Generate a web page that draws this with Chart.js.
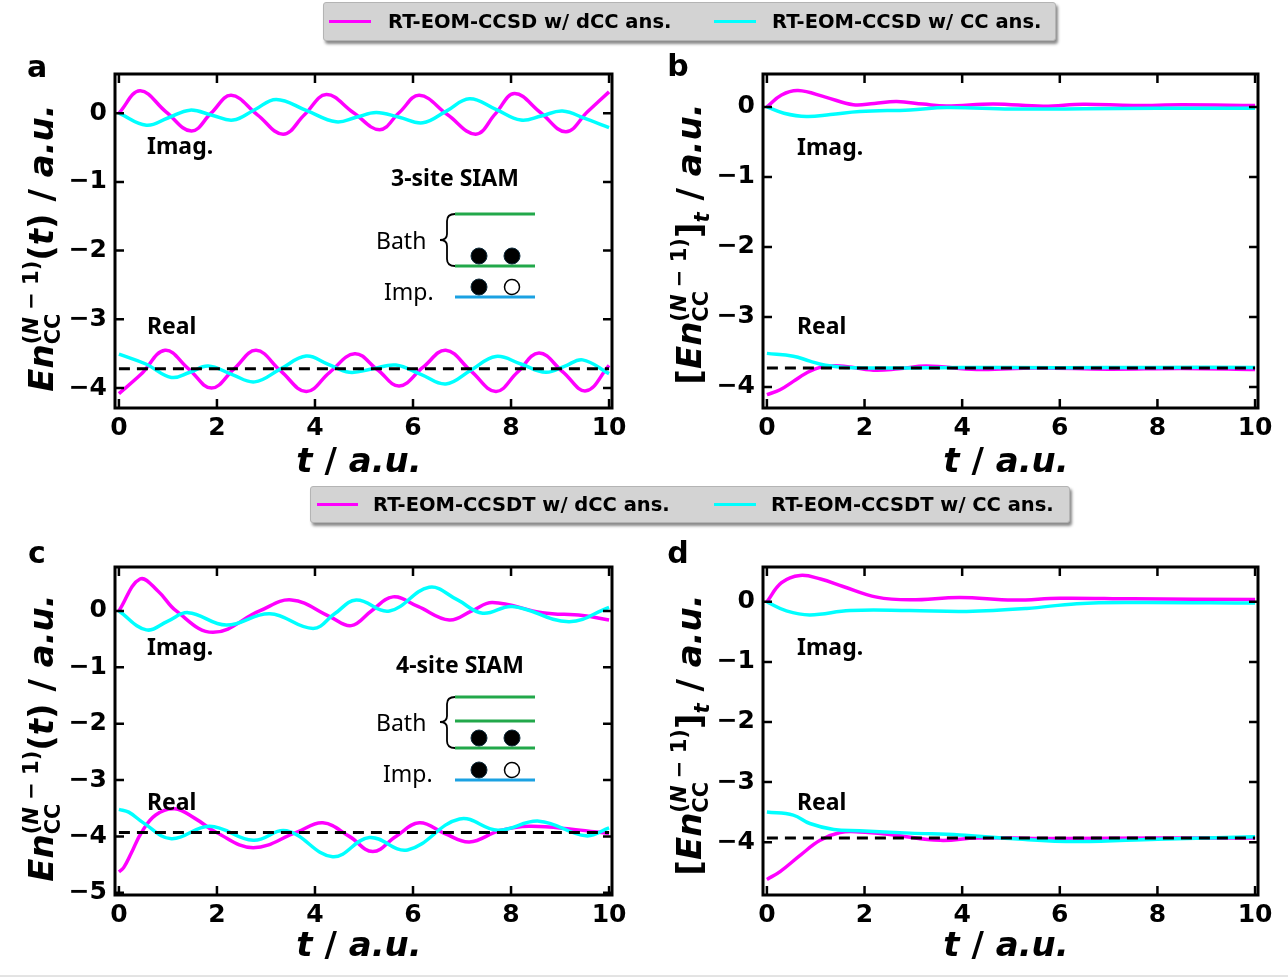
<!DOCTYPE html>
<html>
<head>
<meta charset="utf-8">
<script src="https://cdn.jsdelivr.net/npm/chart.js@4.4.0/dist/chart.umd.min.js"></script>
<style>
  body { margin: 0; background: #fff; width: 1288px; height: 979px; position: relative; overflow: hidden; font-family: "DejaVu Sans", sans-serif; }
  canvas { position: absolute; left: 0; top: 0; }
  .t { position: absolute; white-space: nowrap; transform: translate(-50%, -50%); line-height: 1; }
  .pl { font: bold 30px "DejaVu Sans"; }
  .xt { font: bold 34px "DejaVu Sans"; }
  .yt { font: bold 34px "DejaVu Sans"; transform: translate(-50%, -50%) rotate(-90deg); }
  .ss { display: inline-block; vertical-align: -0.32em; font-size: 21px; line-height: 1.05; text-align: left; }
  .ss span { display: block; }
  .sb { font-size: 21px; vertical-align: -0.35em; }
  .ann { position: absolute; white-space: nowrap; font: bold 23px "Noto Sans"; transform: translateY(-50%); line-height: 1; }
  .dia { position: absolute; white-space: nowrap; font: 23px "Noto Sans"; transform: translateY(-50%); line-height: 1; }
  .legend { position: absolute; background: #d3d3d3; border: 1px solid #b4b4b4; border-radius: 3px; box-shadow: 2px 3px 3px #8a8a8a; }
  .sw { position: absolute; height: 3px; }
  .lt { position: absolute; white-space: nowrap; font: bold 19.5px "DejaVu Sans"; transform: translateY(-50%); line-height: 1; }
  svg { position: absolute; left: 0; top: 0; }
</style>
</head>
<body>
<canvas id="pa" width="1288" height="979"></canvas>
<canvas id="pb" width="1288" height="979"></canvas>
<canvas id="pc" width="1288" height="979"></canvas>
<canvas id="pd" width="1288" height="979"></canvas>

<svg width="1288" height="979">
  <!-- 3-site diagram -->
  <line x1="455" y1="214" x2="535" y2="214" stroke="#22a84a" stroke-width="3"/>
  <line x1="455" y1="266" x2="535" y2="266" stroke="#22a84a" stroke-width="3"/>
  <line x1="455" y1="297" x2="535" y2="297" stroke="#1ba1e2" stroke-width="3"/>
  <path d="M455 214 Q447 214 447 221 L447 234 Q447 240 440 240 Q447 240 447 246 L447 259 Q447 266 455 266" fill="none" stroke="#000" stroke-width="1.8"/>
  <circle cx="479" cy="256" r="8" fill="#000" stroke="#0e2a3a" stroke-width="1"/>
  <circle cx="512" cy="256" r="8" fill="#000" stroke="#0e2a3a" stroke-width="1"/>
  <circle cx="479" cy="287" r="8" fill="#000" stroke="#0e2a3a" stroke-width="1"/>
  <circle cx="512" cy="287" r="7.5" fill="#fff" stroke="#000" stroke-width="1.5"/>
  <!-- 4-site diagram -->
  <line x1="455" y1="697" x2="535" y2="697" stroke="#22a84a" stroke-width="3"/>
  <line x1="455" y1="721" x2="535" y2="721" stroke="#22a84a" stroke-width="3"/>
  <line x1="455" y1="748" x2="535" y2="748" stroke="#22a84a" stroke-width="3"/>
  <line x1="455" y1="780" x2="535" y2="780" stroke="#1ba1e2" stroke-width="3"/>
  <path d="M455 697 Q447 697 447 704 L447 716 Q447 722 440 722 Q447 722 447 728 L447 741 Q447 748 455 748" fill="none" stroke="#000" stroke-width="1.8"/>
  <circle cx="479" cy="738" r="8" fill="#000" stroke="#0e2a3a" stroke-width="1"/>
  <circle cx="512" cy="738" r="8" fill="#000" stroke="#0e2a3a" stroke-width="1"/>
  <circle cx="479" cy="770" r="8" fill="#000" stroke="#0e2a3a" stroke-width="1"/>
  <circle cx="512" cy="770" r="7.5" fill="#fff" stroke="#000" stroke-width="1.5"/>
  <line x1="0" y1="976" x2="1288" y2="976" stroke="#c8c8c8" stroke-width="1"/>
</svg>

<!-- legends -->
<div class="legend" style="left:323px;top:2px;width:731px;height:37px;">
  <div class="sw" style="left:5px;top:17px;width:42px;background:#ff00ff;"></div>
  <div class="lt" style="left:64px;top:19px;">RT-EOM-CCSD w/ dCC ans.</div>
  <div class="sw" style="left:390px;top:17px;width:42px;background:#00ffff;"></div>
  <div class="lt" style="left:448px;top:19px;">RT-EOM-CCSD w/ CC ans.</div>
</div>
<div class="legend" style="left:310px;top:486px;width:758px;height:35px;">
  <div class="sw" style="left:6px;top:16px;width:41px;background:#ff00ff;"></div>
  <div class="lt" style="left:62px;top:18px;">RT-EOM-CCSDT w/ dCC ans.</div>
  <div class="sw" style="left:403px;top:16px;width:42px;background:#00ffff;"></div>
  <div class="lt" style="left:460px;top:18px;">RT-EOM-CCSDT w/ CC ans.</div>
</div>

<!-- panel letters -->
<div class="t pl" style="left:37px;top:66px;">a</div>
<div class="t pl" style="left:678px;top:65px;">b</div>
<div class="t pl" style="left:37px;top:552px;">c</div>
<div class="t pl" style="left:678px;top:552px;">d</div>

<!-- axis titles -->
<div class="t xt" style="left:359px;top:460px;"><i>t</i> / <i>a.u.</i></div>
<div class="t xt" style="left:1006px;top:460px;"><i>t</i> / <i>a.u.</i></div>
<div class="t xt" style="left:359px;top:944px;"><i>t</i> / <i>a.u.</i></div>
<div class="t xt" style="left:1006px;top:944px;"><i>t</i> / <i>a.u.</i></div>

<div class="t yt" style="left:42px;top:248px;"><i>En</i><span class="ss"><span>(<i>N</i> − 1)</span><span>CC</span></span>(<i>t</i>) / <i>a.u.</i></div>
<div class="t yt" style="left:691px;top:244px;">[<i>En</i><span class="ss"><span>(<i>N</i> − 1)</span><span>CC</span></span>]<span class="sb"><i>t</i></span> / <i>a.u.</i></div>
<div class="t yt" style="left:42px;top:738px;"><i>En</i><span class="ss"><span>(<i>N</i> − 1)</span><span>CC</span></span>(<i>t</i>) / <i>a.u.</i></div>
<div class="t yt" style="left:691px;top:735px;">[<i>En</i><span class="ss"><span>(<i>N</i> − 1)</span><span>CC</span></span>]<span class="sb"><i>t</i></span> / <i>a.u.</i></div>

<!-- annotations -->
<div class="ann" style="left:147px;top:145px;">Imag.</div>
<div class="ann" style="left:147px;top:325px;">Real</div>
<div class="ann" style="left:797px;top:146px;">Imag.</div>
<div class="ann" style="left:797px;top:325px;">Real</div>
<div class="ann" style="left:147px;top:646px;">Imag.</div>
<div class="ann" style="left:147px;top:801px;">Real</div>
<div class="ann" style="left:797px;top:646px;">Imag.</div>
<div class="ann" style="left:797px;top:801px;">Real</div>
<div class="ann" style="left:391px;top:177px;">3-site SIAM</div>
<div class="ann" style="left:396px;top:664px;">4-site SIAM</div>
<div class="dia" style="left:376px;top:240px;">Bath</div>
<div class="dia" style="left:384px;top:291px;">Imp.</div>
<div class="dia" style="left:376px;top:722px;">Bath</div>
<div class="dia" style="left:383px;top:773px;">Imp.</div>

<script>
// ---- panel a: 3-site SIAM, RT-EOM-CCSD ----
var aImagDccT = [0, 0.43, 0.96, 1.48, 1.88, 2.29, 2.82, 3.35, 3.79, 4.23, 4.78, 5.32, 5.72, 6.13, 6.7, 7.28, 7.68, 8.07, 8.6, 9.12, 9.56, 10];
var aImagDccV = [0, 0.325, 0.02, -0.26, 0.0, 0.26, -0.02, -0.305, -0.02, 0.27, 0.01, -0.24, 0.01, 0.26, -0.02, -0.305, -0.01, 0.285, 0.01, -0.27, 0.02, 0.31];
var aImagCcT = [0, 0.56, 1.0, 1.45, 1.9, 2.33, 2.77, 3.21, 3.82, 4.43, 4.84, 5.25, 5.72, 6.2, 6.68, 7.15, 7.68, 8.2, 8.62, 9.05, 9.52, 10];
var aImagCcV = [0, -0.175, -0.07, 0.044, -0.03, -0.10, 0.05, 0.2, 0.04, -0.126, -0.06, 0.01, -0.06, -0.14, 0.03, 0.21, 0.06, -0.1, -0.04, 0.03, -0.08, -0.21];
var aRealDccT = [0, 0.45, 0.94, 1.42, 1.89, 2.35, 2.8, 3.3, 3.82, 4.3, 4.81, 5.27, 5.72, 6.2, 6.67, 7.18, 7.69, 8.13, 8.57, 9.05, 9.53, 10];
var aRealDccV = [-4.08, -3.8, -3.45, -3.72, -4.0, -3.72, -3.45, -3.75, -4.05, -3.77, -3.5, -3.73, -3.97, -3.7, -3.45, -3.75, -4.05, -3.77, -3.49, -3.76, -4.04, -3.67];
var aRealCcT = [0, 0.55, 1.07, 1.45, 1.82, 2.3, 2.77, 3.3, 3.82, 4.26, 4.7, 5.18, 5.65, 6.16, 6.67, 7.18, 7.69, 8.2, 8.71, 9.1, 9.46, 10];
var aRealCcV = [-3.505, -3.65, -3.845, -3.77, -3.68, -3.8, -3.91, -3.72, -3.535, -3.65, -3.77, -3.72, -3.665, -3.8, -3.94, -3.74, -3.54, -3.65, -3.77, -3.68, -3.59, -3.79];
var aExact = -3.72;

// ---- panel b: time-averaged, CCSD ----
var bImagDccT = [0, 0.3, 0.64, 1.2, 1.77, 2.2, 2.66, 3.2, 3.68, 4.64, 5.66, 6.48, 7.5, 8.5, 10];
var bImagDccV = [0, 0.17, 0.233, 0.14, 0.03, 0.05, 0.076, 0.04, 0.014, 0.043, 0.01, 0.038, 0.02, 0.03, 0.02];
var bImagCcT = [0, 0.35, 0.81, 1.3, 1.9, 2.93, 3.68, 5, 6.5, 8, 10];
var bImagCcV = [0, -0.09, -0.138, -0.11, -0.067, -0.043, -0.01, -0.03, -0.025, -0.02, -0.02];
var bRealDccT = [0, 0.27, 0.54, 0.81, 1.09, 1.5, 2.18, 2.7, 3.27, 4.3, 5.5, 7, 8.5, 10];
var bRealDccV = [-4.11, -4.04, -3.92, -3.8, -3.72, -3.7, -3.76, -3.74, -3.7, -3.75, -3.73, -3.745, -3.735, -3.75];
var bRealCcT = [0, 0.54, 0.88, 1.2, 1.6, 2.5, 4, 6, 8, 10];
var bRealCcV = [-3.52, -3.56, -3.63, -3.69, -3.72, -3.73, -3.72, -3.725, -3.72, -3.72];
var bExact = -3.73;

// ---- panel c: 4-site SIAM, RT-EOM-CCSDT ----
var cImagDccT = [0, 0.43, 0.8, 1.17, 1.92, 2.87, 3.52, 4.3, 4.74, 5.15, 5.59, 6.1, 6.74, 7.2, 7.62, 8.64, 9.46, 10];
var cImagDccV = [0, 0.566, 0.35, 0, -0.38, 0, 0.195, -0.1, -0.26, 0.0, 0.25, 0.08, -0.16, 0.0, 0.15, -0.03, -0.08, -0.16];
var cImagCcT = [0, 0.56, 1.0, 1.41, 2.19, 3.08, 3.96, 4.4, 4.84, 5.52, 6.33, 6.9, 7.42, 8.03, 9.18, 10];
var cImagCcV = [0, -0.336, -0.18, -0.03, -0.25, -0.05, -0.31, -0.05, 0.195, 0.0, 0.42, 0.2, -0.04, 0.08, -0.19, 0.065];
var cRealDccT = [0, 0.1, 0.25, 0.46, 0.75, 1.14, 1.55, 1.99, 2.74, 3.62, 4.16, 4.7, 5.18, 5.65, 6.13, 6.65, 7.15, 7.76, 8.37, 9.32, 10];
var cRealDccV = [-4.63, -4.55, -4.3, -3.93, -3.62, -3.51, -3.68, -3.93, -4.2, -3.93, -3.76, -4.0, -4.27, -4.0, -3.76, -3.95, -4.1, -3.9, -3.82, -3.88, -3.95];
var cRealCcT = [0, 0.2, 0.5, 1.07, 1.85, 2.74, 3.42, 4.36, 5.11, 5.89, 6.95, 7.73, 8.57, 9.53, 10];
var cRealCcV = [-3.52, -3.57, -3.76, -4.04, -3.82, -4.07, -3.9, -4.36, -4.02, -4.24, -3.69, -3.89, -3.73, -3.99, -3.85];
var cExact = -3.93;

// ---- panel d: time-averaged, CCSDT ----
var dImagDccT = [0, 0.3, 0.68, 1.1, 1.56, 2.25, 2.93, 3.95, 5.05, 6.0, 7.5, 10];
var dImagDccV = [0, 0.32, 0.44, 0.38, 0.255, 0.078, 0.033, 0.072, 0.03, 0.06, 0.05, 0.04];
var dImagCcT = [0, 0.4, 0.88, 1.7, 2.93, 4.09, 5.32, 6.35, 7.5, 10];
var dImagCcV = [0, -0.15, -0.217, -0.145, -0.145, -0.16, -0.11, -0.03, -0.01, -0.02];
var dRealDccT = [0, 0.27, 0.68, 1.09, 1.5, 1.9, 2.59, 3.55, 4.3, 6, 8, 10];
var dRealDccV = [-4.62, -4.49, -4.22, -3.97, -3.84, -3.83, -3.88, -3.97, -3.93, -3.94, -3.93, -3.93];
var dRealCcT = [0, 0.54, 0.88, 1.37, 1.9, 2.93, 3.95, 4.98, 6.35, 8, 10];
var dRealCcV = [-3.50, -3.55, -3.69, -3.79, -3.81, -3.85, -3.88, -3.94, -3.99, -3.95, -3.91];
var dExact = -3.93;

var xTicksStep = 2;
var yTicksStep = 1;

var MAGENTA = '#ff00ff';
var CYAN = '#00ffff';

function pts(t, v) {
  return t.map(function(x, i) { return { x: x, y: v[i] }; });
}

function fmt(v) {
  return v < 0 ? '\u2212' + Math.abs(v) : String(v);
}

// box with inward ticks on all four sides
var frameTicks = {
  id: 'frameTicks',
  afterDraw: function(chart) {
    var ctx = chart.ctx, a = chart.chartArea;
    var xs = chart.scales.x, ys = chart.scales.y;
    ctx.save();
    ctx.strokeStyle = '#000';
    ctx.lineWidth = 2.5;
    ctx.beginPath();
    xs.ticks.forEach(function(t) {
      var px = xs.getPixelForValue(t.value);
      ctx.moveTo(px, a.bottom); ctx.lineTo(px, a.bottom - 9);
      ctx.moveTo(px, a.top); ctx.lineTo(px, a.top + 9);
    });
    ys.ticks.forEach(function(t) {
      var py = ys.getPixelForValue(t.value);
      ctx.moveTo(a.left, py); ctx.lineTo(a.left + 9, py);
      ctx.moveTo(a.right, py); ctx.lineTo(a.right - 9, py);
    });
    ctx.stroke();
    ctx.lineWidth = 3;
    ctx.strokeRect(a.left, a.top, a.right - a.left, a.bottom - a.top);
    ctx.restore();
  }
};

function line(data, color, order) {
  return {
    data: data, borderColor: color, borderWidth: 3.5, pointRadius: 0,
    tension: 0.4, fill: false, order: order
  };
}

function makePanel(id, box, yMin, yMax, s) {
  var tickFont = { family: 'DejaVu Sans', size: 25, weight: 'bold' };
  new Chart(document.getElementById(id), {
    type: 'line',
    data: {
      datasets: [
        line(pts(s.imagDccT, s.imagDccV), MAGENTA, 3),
        line(pts(s.realDccT, s.realDccV), MAGENTA, 3),
        line(pts(s.imagCcT, s.imagCcV), CYAN, 2),
        line(pts(s.realCcT, s.realCcV), CYAN, 2),
        {
          data: [{ x: 0, y: s.exact }, { x: 10, y: s.exact }],
          borderColor: '#000', borderWidth: 3, borderDash: [11, 7],
          pointRadius: 0, fill: false, order: 0
        }
      ]
    },
    options: {
      responsive: false,
      animation: false,
      events: [],
      layout: { padding: { left: box.left - 70, top: box.top, right: 1288 - box.right, bottom: 979 - box.bottom - 50 } },
      plugins: { legend: { display: false }, tooltip: { enabled: false } },
      scales: {
        x: {
          type: 'linear', min: -0.08, max: 10.06,
          grid: { display: false, drawTicks: false }, border: { display: false },
          ticks: { stepSize: xTicksStep, includeBounds: false, padding: 5, color: '#000', font: tickFont, callback: fmt, maxRotation: 0 },
          afterFit: function(sc) { sc.height = 50; }
        },
        y: {
          type: 'linear', min: yMin, max: yMax,
          grid: { display: false, drawTicks: false }, border: { display: false },
          ticks: { stepSize: yTicksStep, includeBounds: false, padding: 8, color: '#000', font: tickFont, callback: fmt },
          afterFit: function(sc) { sc.width = 70; }
        }
      }
    },
    plugins: [frameTicks]
  });
}

makePanel('pa', { left: 115, right: 612, top: 74, bottom: 408 }, -4.29, 0.57, {
  imagDccT: aImagDccT, imagDccV: aImagDccV, imagCcT: aImagCcT, imagCcV: aImagCcV,
  realDccT: aRealDccT, realDccV: aRealDccV, realCcT: aRealCcT, realCcV: aRealCcV, exact: aExact
});
makePanel('pb', { left: 763, right: 1258, top: 74, bottom: 408 }, -4.3, 0.47, {
  imagDccT: bImagDccT, imagDccV: bImagDccV, imagCcT: bImagCcT, imagCcV: bImagCcV,
  realDccT: bRealDccT, realDccV: bRealDccV, realCcT: bRealCcT, realCcV: bRealCcV, exact: bExact
});
makePanel('pc', { left: 115, right: 612, top: 567, bottom: 895 }, -5.04, 0.78, {
  imagDccT: cImagDccT, imagDccV: cImagDccV, imagCcT: cImagCcT, imagCcV: cImagCcV,
  realDccT: cRealDccT, realDccV: cRealDccV, realCcT: cRealCcT, realCcV: cRealCcV, exact: cExact
});
makePanel('pd', { left: 763, right: 1258, top: 567, bottom: 895 }, -4.88, 0.58, {
  imagDccT: dImagDccT, imagDccV: dImagDccV, imagCcT: dImagCcT, imagCcV: dImagCcV,
  realDccT: dRealDccT, realDccV: dRealDccV, realCcT: dRealCcT, realCcV: dRealCcV, exact: dExact
});
</script>
</body>
</html>
